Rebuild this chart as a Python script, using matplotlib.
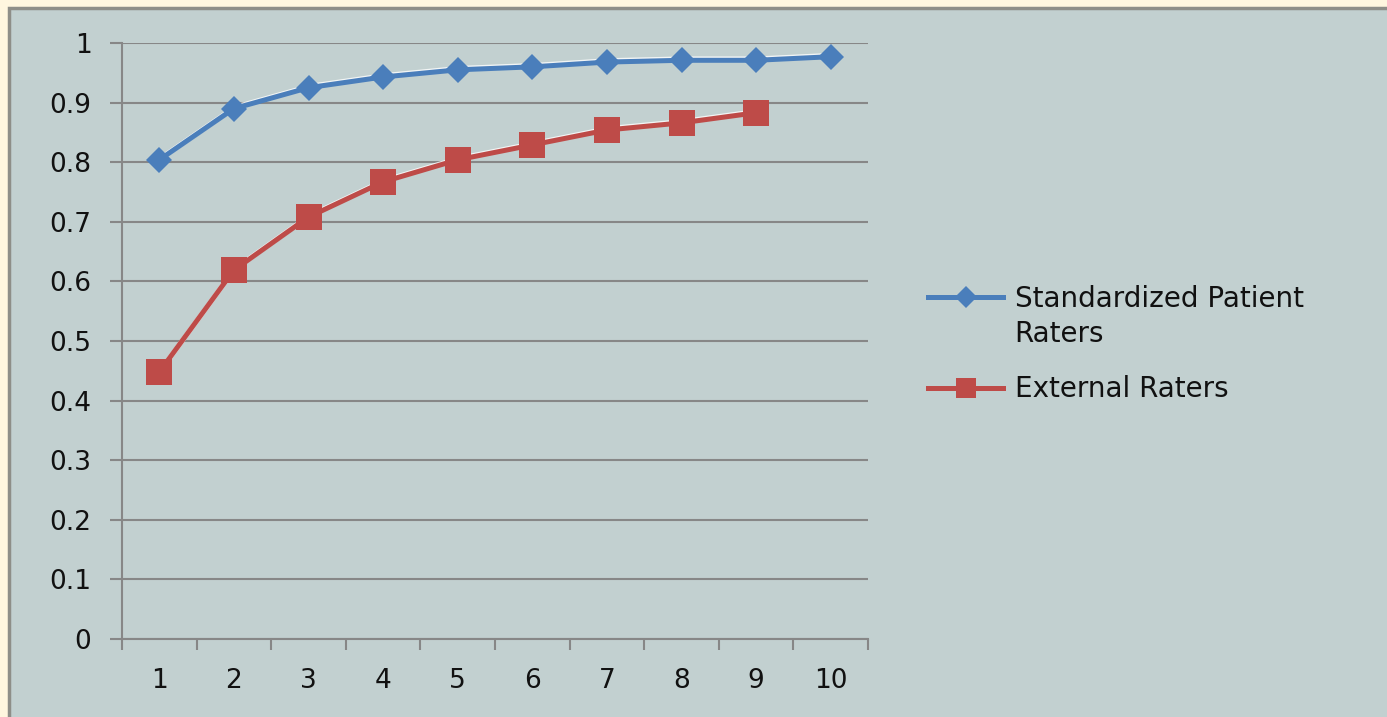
import matplotlib.pyplot as plt
import matplotlib.patheffects as pe
from matplotlib.lines import Line2D
from matplotlib.legend_handler import HandlerLine2D
from matplotlib.patches import Rectangle

# reliability by number of raters
raters = [1, 2, 3, 4, 5, 6, 7, 8, 9, 10]
sp_raters = [0.804, 0.890, 0.925, 0.943, 0.955, 0.960, 0.968, 0.971, 0.971, 0.977]
ext_raters = [0.448, 0.619, 0.708, 0.767, 0.804, 0.829, 0.854, 0.866, 0.883]
yticks = [0, 0.1, 0.2, 0.3, 0.4, 0.5, 0.6, 0.7, 0.8, 0.9, 1]
ytick_labels = ['0', '0.1', '0.2', '0.3', '0.4', '0.5', '0.6', '0.7', '0.8', '0.9', '1']

blue = '#4a7ebb'
red = '#be4b48'
grid_col = '#878787'
panel_col = '#c2d0d0'
txt_col = '#111111'


class TopLineHandler(HandlerLine2D):
    # put the legend line next to the first row of a two-row label
    def create_artists(self, legend, orig_handle, xdescent, ydescent, width, height,
                       fontsize, trans):
        return super().create_artists(legend, orig_handle, xdescent, ydescent - 29,
                                      width, height, fontsize, trans)


fig = plt.figure(figsize=(13.87, 7.17), dpi=100, facecolor='#fff6df')
fig.add_artist(Rectangle((9 / 1387, -0.01), 1.0, 1 - 8 / 717 + 0.01,
                         transform=fig.transFigure, facecolor=panel_col,
                         edgecolor='#8e8e88', lw=2.5, zorder=0))

ax = fig.add_axes([122 / 1387, 78 / 717, 746 / 1387, 596 / 717])
ax.set_facecolor('none')

shadow = [pe.SimpleLineShadow(offset=(0.8, 1.0), shadow_color='white', alpha=0.8),
          pe.Normal()]

# lines with a light highlight, markers drawn on top without it
ax.plot(raters, sp_raters, color=blue, lw=3.6, path_effects=shadow, zorder=3)
ax.plot(raters, sp_raters, ls='none', color=blue, marker='D', ms=13, mew=0, zorder=4)
ext_x = raters[:len(ext_raters)]
ax.plot(ext_x, ext_raters, color=red, lw=3.6, path_effects=shadow, zorder=3)
ax.plot(ext_x, ext_raters, ls='none', color=red, marker='s', ms=19, mew=0, zorder=4)

ax.set_xlim(0.5, 10.5)
ax.set_ylim(0, 1)
ax.set_yticks(yticks)
ax.set_yticklabels(ytick_labels, color=txt_col)
ax.yaxis.grid(True, color=grid_col, lw=1.5)
ax.set_axisbelow(True)

# category axis: ticks on the boundaries, labels in the middle
ax.set_xticks([x - 0.5 for x in raters] + [10.5])
ax.set_xticklabels([])
ax.set_xticks(raters, minor=True)
ax.set_xticklabels([str(r) for r in raters], minor=True, color=txt_col)
ax.tick_params(axis='x', which='major', direction='out', length=8, width=1.5, color=grid_col)
ax.tick_params(axis='x', which='minor', length=0, pad=21, labelsize=19)
ax.tick_params(axis='y', direction='out', length=9, width=1.5, color=grid_col,
               pad=13, labelsize=19)

for side in ['top', 'right']:
    ax.spines[side].set_visible(False)
for side in ['left', 'bottom']:
    ax.spines[side].set_color(grid_col)
    ax.spines[side].set_linewidth(1.5)

handles = [Line2D([], [], color=blue, lw=3.6, marker='D', ms=11, mew=0),
           Line2D([], [], color=red, lw=3.6, marker='s', ms=15, mew=0)]
leg = fig.legend(handles, ['Standardized Patient\nRaters', 'External Raters'],
                 loc='center left', bbox_to_anchor=(928 / 1387, 0.52), frameon=False,
                 prop={'size': 20}, handlelength=2.7,
                 handletextpad=0.42, labelspacing=1.0, borderpad=0, borderaxespad=0,
                 handler_map={handles[0]: TopLineHandler()})
for t in leg.get_texts():
    t.set_color(txt_col)
    t.set_linespacing(1.3)

fig.savefig('out.png', dpi=100, facecolor=fig.get_facecolor())
